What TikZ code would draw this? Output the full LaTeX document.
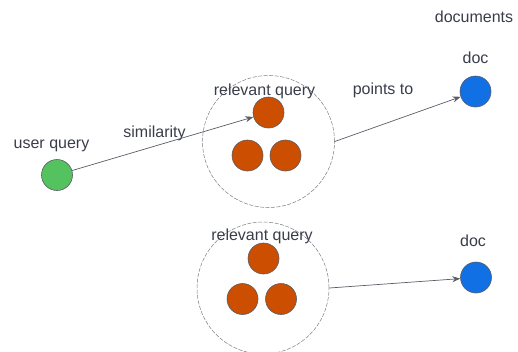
\documentclass[tikz,border=0pt]{standalone}
\usepackage{fontspec}
\setmainfont{Liberation Sans}
\usetikzlibrary{arrows.meta}
\definecolor{txt}{HTML}{3A3D4A}
\definecolor{ln}{HTML}{5A5C66}
\definecolor{qgreen}{HTML}{54C25E}
\definecolor{qorange}{HTML}{CC4E00}
\definecolor{qblue}{HTML}{1170E3}
\tikzset{
  dot/.style={circle,draw=ln,line width=0.6pt,minimum size=31pt,inner sep=0pt},
  grp/.style={circle,draw=ln!80,line width=0.5pt,dash pattern=on 4pt off 1.5pt,minimum size=132pt,inner sep=0pt},
  lbl/.style={text=txt,anchor=base,inner sep=0pt,font=\fontsize{16}{19}\selectfont},
  conn/.style={draw=ln,line width=0.7pt,-{Stealth[length=8pt,width=6pt]}}
}
\begin{document}
\begin{tikzpicture}[x=1pt,y=-1pt]
\useasboundingbox (0,0) rectangle (518,351);
% groups
\node[grp] (c1) at (268.5,141.5) {};
\node[grp] (c2) at (263,288) {};
% dots
\node[dot,fill=qgreen] (uq) at (57,175) {};
\node[dot,fill=qorange] (r1) at (268.5,112.5) {};
\node[dot,fill=qorange] (r2) at (247.5,155.5) {};
\node[dot,fill=qorange] (r3) at (285.5,155.5) {};
\node[dot,fill=qorange] (s1) at (263.5,258.5) {};
\node[dot,fill=qorange] (s2) at (242.5,299) {};
\node[dot,fill=qorange] (s3) at (281,299) {};
\node[dot,fill=qblue] (d1) at (475.5,91.5) {};
\node[dot,fill=qblue] (d2) at (476,277.5) {};
% labels
\node[lbl] (l1) at (51.5,148) {user query};
\node[lbl] (l2) at (154.5,137) {similarity};
\node[lbl] (l3) at (264.5,95) {relevant query};
\node[lbl] (l4) at (262,240.5) {relevant query};
\node[lbl] (l5) at (383,94) {points to};
\node[lbl] (l6) at (474,22) {documents};
\node[lbl] (l7) at (475.5,63) {doc};
\node[lbl] (l8) at (473,246) {doc};
% connectors
\draw[conn] (uq) -- (r1);
\draw[conn] (c1.east) -- (d1);
\draw[conn] (c2.east) -- (d2);
\end{tikzpicture}
\end{document}
